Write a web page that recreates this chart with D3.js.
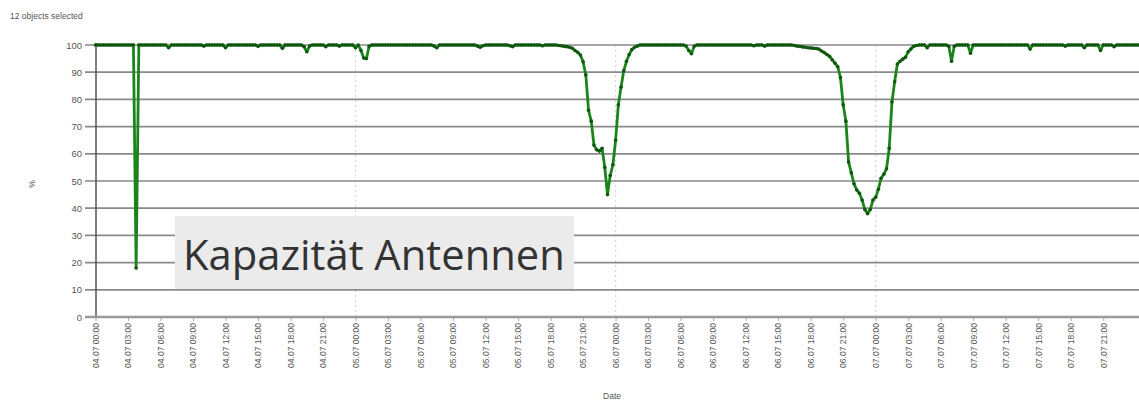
<!DOCTYPE html>
<html><head><meta charset="utf-8">
<script src="https://cdn.jsdelivr.net/npm/d3@7/dist/d3.min.js"></script>
<style>body{margin:0;background:#fff}svg{display:block}</style>
</head><body>
<svg id="chart" width="1139" height="408"></svg>
<script>
// ---------- data (15-minute samples, % capacity) ----------
const seriesStart = "04.07 00:00";
const sampleMinutes = 15;
const values0407 = [
  100,100,100,100,100,100,100,100,100,100,100,100,
  100,100,100,18,100,100,100,100,100,100,100,100,
  100,100,100,99,100,100,100,100,100,100,100,100,
  100,100,100,100,99.6,100,100,100,100,100,100,100,
  99,100,100,100,100,100,100,100,100,100,100,100,
  99.5,100,100,100,100,100,100,100,100,98.8,100,100,
  100,100,100,100,100,99.4,97.5,99.6,100,100,100,100,
  100,99.4,100,100,100,100,99.6,100,100,100,100,100
];
const values0507 = [
  99,100,98,95.2,95,99.5,100,100,100,100,100,100,
  100,100,100,100,100,100,100,100,100,100,100,100,
  100,100,100,100,100,99.6,99,100,100,100,100,100,
  100,100,100,100,100,100,100,100,100,99.6,99.2,99.7,
  100,100,100,100,100,100,100,100,100,99.7,99.4,100,
  100,100,100,100,100,100,100,100,100,99.7,100,100,
  100,100,100,99.8,99.7,99.5,99.4,99.2,98.8,98,97.3,96.3,
  93.8,89,76,72,63.2,61.5,61,62,55,45,52,56
];
const values0607 = [
  65,78,84.5,90.5,94,96.5,98.3,99.2,99.6,100,100,100,
  100,100,100,100,100,100,100,100,100,100,100,100,
  100,100,99.6,98,96.8,99.5,100,100,100,100,100,100,
  100,100,100,100,100,100,100,100,100,100,100,100,
  100,100,100,99.7,100,100,100,99.6,100,100,100,100,
  100,100,100,100,100,100,99.8,99.6,99.5,99.3,99.2,99,
  98.9,98.8,98.7,98.5,97.8,97.2,96.5,95.8,94.5,93.3,92,88,
  78,72,57,53,49,46.7,45.5,43,39.5,38,39.5,43
];
const values0707 = [
  44,47,51,52.5,54.5,62,79,86.5,93,94,94.8,95.5,
  97.5,98.5,99.5,99.8,100,100,100,99,100,100,100,100,
  100,100,100,99.5,94,99.5,100,100,100,100,100,97,
  100,100,100,100,100,100,100,100,100,100,100,100,
  100,100,100,100,100,100,100,100,100,98.5,100,100,
  100,100,100,100,100,100,100,100,100,100,99.6,100,
  100,100,100,100,100,99,100,100,100,100,100,98,
  100,100,100,100,99.4,100,100,100,100,100,100,100
];
const values0807 = [100,100];

const tickLabels = [
  "04.07 00:00","04.07 03:00","04.07 06:00","04.07 09:00","04.07 12:00","04.07 15:00","04.07 18:00","04.07 21:00",
  "05.07 00:00","05.07 03:00","05.07 06:00","05.07 09:00","05.07 12:00","05.07 15:00","05.07 18:00","05.07 21:00",
  "06.07 00:00","06.07 03:00","06.07 06:00","06.07 09:00","06.07 12:00","06.07 15:00","06.07 18:00","06.07 21:00",
  "07.07 00:00","07.07 03:00","07.07 06:00","07.07 09:00","07.07 12:00","07.07 15:00","07.07 18:00","07.07 21:00"
];
const dayLineLabels = ["05.07 00:00","06.07 00:00","07.07 00:00"];
const domainEndLabel = "08.07 00:18";
const yTicks = [0,10,20,30,40,50,60,70,80,90,100];
const selectionNote = "12 objects selected";
const xTitle = "Date";
const yTitle = "%";
const annotationText = "Kapazität Antennen";

// ---------- build ----------
const parse = d3.timeParse("%d.%m %H:%M");
const fmt = d3.timeFormat("%d.%m %H:%M");
const allValues = [].concat(values0407, values0507, values0607, values0707, values0807);
const t0 = parse(seriesStart);
const data = allValues.map((v, i) => ({ t: d3.timeMinute.offset(t0, i * sampleMinutes), v }));

const svg = d3.select("#chart");
svg.append("rect").attr("width", 1139).attr("height", 408).attr("fill", "#fff");

const plotLeft = 96, plotRight = 1139, plotTop = 45, plotBottom = 317;
const x = d3.scaleTime().domain([t0, parse(domainEndLabel)]).range([95.5, 1139]);
const y = d3.scaleLinear().domain([0, 100]).range([plotBottom, plotTop]);

const font = "'Liberation Sans', Arial, sans-serif";

// top note
svg.append("text").attr("x", 10).attr("y", 19).attr("font-family", font)
  .attr("font-size", 8.5).attr("fill", "#555").text(selectionNote);

// day separators (dotted)
svg.append("g").selectAll("line").data(dayLineLabels.map(parse)).join("line")
  .attr("x1", d => x(d)).attr("x2", d => x(d))
  .attr("y1", plotTop).attr("y2", plotBottom)
  .attr("stroke", "#d6d6d6").attr("stroke-width", 1.2).attr("stroke-dasharray", "2,3");

// horizontal gridlines
svg.append("g").selectAll("line").data(yTicks.filter(d => d > 0)).join("line")
  .attr("x1", 85).attr("x2", plotRight)
  .attr("y1", d => y(d)).attr("y2", d => y(d))
  .attr("stroke", "#8a8a8a").attr("stroke-width", 1.7);

// y axis labels
const yAxis = d3.axisLeft(y).tickValues(yTicks).tickSize(0).tickPadding(0);
const gy = svg.append("g").attr("transform", `translate(82,0)`).call(yAxis);
gy.select(".domain").remove();
gy.selectAll("text").attr("font-family", font).attr("font-size", 9.5).attr("fill", "#555");

// y axis line
svg.append("line").attr("x1", plotLeft).attr("x2", plotLeft)
  .attr("y1", plotTop - 2).attr("y2", plotBottom)
  .attr("stroke", "#555").attr("stroke-width", 1.5);

// x axis
const xAxis = d3.axisBottom(x).tickValues(tickLabels.map(parse)).tickFormat(fmt).tickSize(4);
const gx = svg.append("g").attr("transform", `translate(0,${plotBottom})`).call(xAxis);
gx.select(".domain").remove();
gx.selectAll(".tick line").attr("stroke", "#aaa");
gx.selectAll("text").attr("font-family", font).attr("font-size", 8.5).attr("fill", "#555")
  .attr("transform", "rotate(-90)").attr("x", -6).attr("y", 0).attr("dy", "0.33em")
  .style("text-anchor", "end");

// x axis baseline
svg.append("line").attr("x1", 85).attr("x2", plotRight)
  .attr("y1", plotBottom).attr("y2", plotBottom)
  .attr("stroke", "#9a9a9a").attr("stroke-width", 2.5);

// axis titles
svg.append("text").attr("x", 612).attr("y", 399).attr("text-anchor", "middle")
  .attr("font-family", font).attr("font-size", 8.5).attr("fill", "#555").text(xTitle);
svg.append("text").attr("transform", "translate(35,184) rotate(-90)").attr("text-anchor", "middle")
  .attr("font-family", font).attr("font-size", 8.5).attr("fill", "#555").text(yTitle);

// annotation box
svg.append("rect").attr("x", 175).attr("y", 216).attr("width", 399).attr("height", 73)
  .attr("fill", "#ebebeb");
const ann = svg.append("text").attr("x", 183).attr("y", 270)
  .attr("font-family", "'Open Sans', 'Noto Sans', sans-serif")
  .attr("font-size", 40).attr("fill", "#333").text(annotationText);
const w = ann.node().getComputedTextLength();
ann.attr("font-size", 40 * 382 / w);

// series
const line = d3.line().x(d => x(d.t)).y(d => y(d.v));
svg.append("path").datum(data).attr("d", line)
  .attr("fill", "none").attr("stroke", "#1b851b").attr("stroke-width", 2.8)
  .attr("stroke-linejoin", "round");
svg.append("g").selectAll("circle").data(data).join("circle")
  .attr("cx", d => x(d.t)).attr("cy", d => y(d.v)).attr("r", 1.8)
  .attr("fill", "#115511");
</script>
</body></html>
